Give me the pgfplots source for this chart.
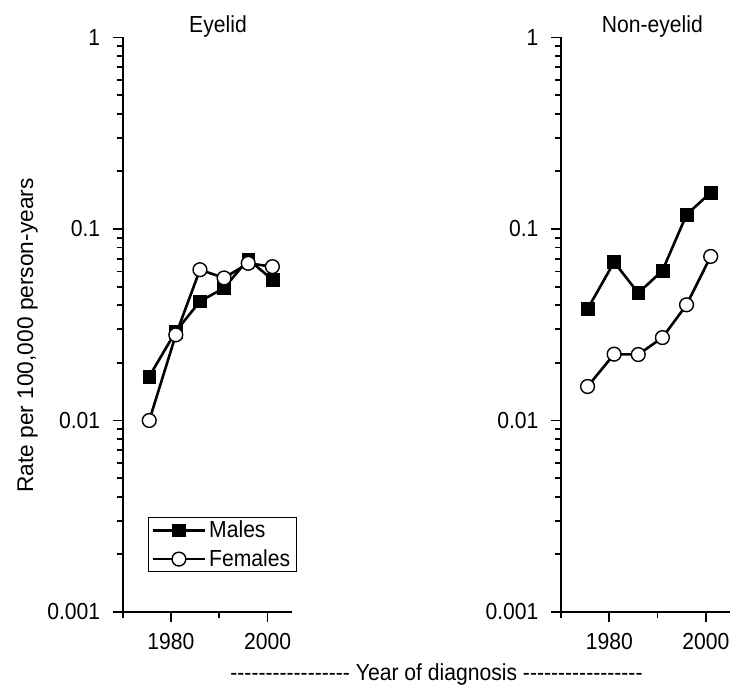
\documentclass[border=0pt]{standalone}
\usepackage{pgfplots}
\pgfplotsset{compat=1.18}
\usepackage{fontspec}
\setmainfont{Liberation Sans}[FakeStretch=0.91]
\newfontfamily\ylfont{Liberation Sans}
\newcommand\fs{\fontsize{23.3}{27}\selectfont}
\newcommand\dd{-{}-{}-{}-{}-{}-{}-{}-{}-{}-{}-{}-{}-{}-{}-{}-{}-{}}

\pgfplotstableread{
year  males   females
1975.5 0.0170 0.0100
1981   0.0292 0.0280
1986   0.0419 0.0613
1991   0.0492 0.0555
1996   0.0694 0.0662
2001   0.0544 0.0636
}\eyelid
\pgfplotstableread{
year  males   females
1975.5 0.0382 0.01505
1981   0.0672 0.0222
1986   0.0463 0.0221
1991   0.0606 0.0271
1996   0.1188 0.0402
2001   0.1550 0.0719
}\noneyelid

\tikzset{
 males/.style={black, line width=2.6bp, mark=square*, mark size=6.4bp,
   mark options={solid, fill=black, line width=0.5bp}},
 females/.style={black, line width=2.6bp, mark=*, mark size=6.9bp,
   mark options={solid, fill=white, line width=1.4bp}},
}

\begin{document}
\begin{tikzpicture}
\path[use as bounding box] (0,0) rectangle (750bp,700bp);

\begin{axis}[at={(122.7bp,88bp)},
  scale only axis, width=169bp, height=574.5bp, anchor=south west,
  ymode=log, xmin=1970, xmax=2005, ymin=0.001, ymax=1,
  axis x line*=bottom, axis y line*=left,
  axis line style={-, line width=1.8bp, black},
  xtick={1980,2000}, xticklabels={1980,2000},
  minor xtick={1970,1990},
  ytick={0.001,0.01,0.1,1}, yticklabels={0.001,0.01,0.1,1},
  minor ytick={0.002,0.003,0.004,0.005,0.006,0.007,0.008,0.009,
               0.02,0.03,0.04,0.05,0.06,0.07,0.08,0.09,
               0.2,0.3,0.4,0.5,0.6,0.7,0.8,0.9},
  xtick align=outside, ytick align=outside,
  major tick length=10bp, minor tick length=6bp,
  tick style={draw=black, line width=1.8bp},
  tick label style={font=\fs},
  yticklabel style={xshift=-9bp},
  xticklabel style={yshift=-8bp},
  clip=false,
  legend image code/.code={\draw[mark repeat=2,mark phase=2,#1] plot coordinates {(0bp,0bp) (26bp,0bp) (52bp,0bp)};},
  legend style={at={(rel axis cs:0.151,0.165)}, anchor=north west,
    draw=black, line width=0.8bp, font=\fs, inner xsep=3bp, inner ysep=2.5bp,
    row sep=8.5bp, nodes={inner xsep=3bp, inner ysep=1bp}},
  legend cell align=left]
\addplot[males] table[x=year,y=males] {\eyelid};
\addlegendentry{Males}
\addplot[females] table[x=year,y=females] {\eyelid};
\addlegendentry{Females}
\end{axis}

\begin{axis}[at={(561bp,88bp)},
  scale only axis, width=169bp, height=574.5bp, anchor=south west,
  ymode=log, xmin=1970, xmax=2005, ymin=0.001, ymax=1,
  axis x line*=bottom, axis y line*=left,
  axis line style={-, line width=1.8bp, black},
  xtick={1980,2000}, xticklabels={1980,2000},
  minor xtick={1970,1990},
  ytick={0.001,0.01,0.1,1}, yticklabels={0.001,0.01,0.1,1},
  minor ytick={0.002,0.003,0.004,0.005,0.006,0.007,0.008,0.009,
               0.02,0.03,0.04,0.05,0.06,0.07,0.08,0.09,
               0.2,0.3,0.4,0.5,0.6,0.7,0.8,0.9},
  xtick align=outside, ytick align=outside,
  major tick length=10bp, minor tick length=6bp,
  tick style={draw=black, line width=1.8bp},
  tick label style={font=\fs},
  yticklabel style={xshift=-9bp},
  xticklabel style={yshift=-8bp},
  clip=false]
\addplot[males] table[x=year,y=males] {\noneyelid};
\addplot[females] table[x=year,y=females] {\noneyelid};
\end{axis}

\node[anchor=base, font=\fs] at (218bp,667bp) {Eyelid};
\node[anchor=base, font=\fs] at (652.3bp,667bp) {Non-eyelid};
\node[anchor=base, rotate=90, font=\ylfont\fontsize{22.8}{27}\selectfont] at (33bp,364.5bp) {Rate per 100,000 person-years};
\node[anchor=base, font=\fs] at (436.5bp,20bp) {\dd{} Year of diagnosis \dd};
\end{tikzpicture}
\end{document}
